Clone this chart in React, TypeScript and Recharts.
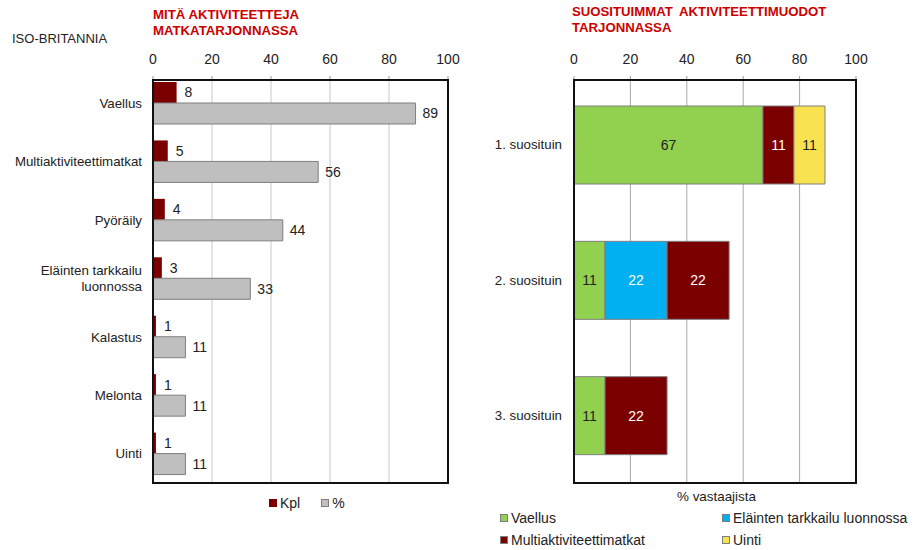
import React from 'react';
import { BarChart, Bar, XAxis, YAxis, CartesianGrid, LabelList } from 'recharts';

const FONT = '"Liberation Sans", Arial, sans-serif';

// vasen kaavio: aktiviteetit matkatarjonnassa
const activities = [
  'Vaellus',
  'Multiaktiviteettimatkat',
  'Pyöräily',
  'Eläinten tarkkailu luonnossa',
  'Kalastus',
  'Melonta',
  'Uinti',
];
const kplValues = [8, 5, 4, 3, 1, 1, 1];
const pctValues = [89, 56, 44, 33, 11, 11, 11];

// oikea kaavio: suosituimmat aktiviteettimuodot
const ranks = ['1. suosituin', '2. suosituin', '3. suosituin'];
const vaellusShare = [67, 11, 11];
const elaintenShare = [0, 22, 0];
const multiShare = [11, 22, 22];
const uintiShare = [11, 0, 0];

const axisTicks = [0, 20, 40, 60, 80, 100];

const leftData = activities.map((name, i) => ({ name, kpl: kplValues[i], pct: pctValues[i] }));
const rightData = ranks.map((name, i) => ({
  name,
  vaellus: vaellusShare[i],
  elainten: elaintenShare[i],
  multi: multiShare[i],
  uinti: uintiShare[i],
}));

const C = {
  red: '#7A0000',
  gray: '#BFBFBF',
  grayEdge: '#7F7F7F',
  green: '#92D050',
  blue: '#00B0F0',
  yellow: '#F9E24F',
  text: '#222',
  title: '#CC0000',
};

const wrapLabel = (s: string) => {
  if (s.length <= 24) return [s];
  const i = s.lastIndexOf(' ');
  return [s.slice(0, i), s.slice(i + 1)];
};

const CategoryTick = (props: any) => {
  const { x, y, payload } = props;
  const lines = wrapLabel(String(payload.value));
  const lh = 16.5;
  const y0 = y - ((lines.length - 1) * lh) / 2;
  return (
    <text x={x} y={y0} textAnchor="end" fontSize={13.3} fill={C.text} fontFamily={FONT}>
      {lines.map((l, i) => (
        <tspan key={i} x={x} dy={i === 0 ? '0.35em' : lh}>
          {l}
        </tspan>
      ))}
    </text>
  );
};

const hideZero = (v: any) => (v ? v : '');

const Swatch = ({ color, edge }: { color: string; edge?: string }) => (
  <span
    style={{
      display: 'inline-block',
      width: 8,
      height: 8,
      background: color,
      border: `1px solid ${edge || '#555'}`,
      boxSizing: 'border-box',
      marginRight: 3,
    }}
  />
);

const Frame = ({ left, top, width, height }: any) => (
  <div
    style={{
      position: 'absolute',
      left,
      top,
      width,
      height,
      border: '2px solid #111',
      boxSizing: 'border-box',
      pointerEvents: 'none',
    }}
  />
);

const tickStyle = { fontSize: 14, fill: C.text, fontFamily: FONT };

export default function App() {
  return (
    <div
      style={{
        position: 'absolute',
        left: 0,
        top: 0,
        width: 918,
        height: 550,
        background: '#fff',
        fontFamily: FONT,
        color: C.text,
        overflow: 'hidden',
      }}
    >
      <div style={{ position: 'absolute', left: 12, top: 31, fontSize: 13 }}>ISO-BRITANNIA</div>
      <div
        style={{
          position: 'absolute',
          left: 153,
          top: 7,
          fontSize: 13.2,
          lineHeight: '15.5px',
          fontWeight: 'bold',
          color: C.title,
        }}
      >
        MITÄ AKTIVITEETTEJA
        <br />
        MATKATARJONNASSA
      </div>
      <div
        style={{
          position: 'absolute',
          left: 572,
          top: 4,
          fontSize: 13.2,
          lineHeight: '15.5px',
          fontWeight: 'bold',
          color: C.title,
          wordSpacing: 3,
        }}
      >
        SUOSITUIMMAT AKTIVITEETTIMUODOT
        <br />
        TARJONNASSA
      </div>

      <div style={{ position: 'absolute', left: 0, top: 0 }}>
        <BarChart
          width={460}
          height={550}
          data={leftData}
          layout="vertical"
          margin={{ top: 0, right: 12, bottom: 67, left: 0 }}
          barGap={0}
        >
          <CartesianGrid horizontal={false} stroke="#C8C8C8" />
          <XAxis
            type="number"
            orientation="top"
            domain={[0, 100]}
            ticks={axisTicks}
            height={80}
            axisLine={false}
            tickLine={{ stroke: '#999' }}
            tickSize={4}
            tickMargin={12}
            tick={tickStyle}
            interval={0}
          />
          <YAxis
            type="category"
            dataKey="name"
            width={153}
            axisLine={false}
            tickLine={false}
            tickSize={0}
            tickMargin={11}
            tick={<CategoryTick />}
            interval={0}
            padding={{ top: -6, bottom: 0 }}
          />
          <Bar dataKey="kpl" fill={C.red} barSize={21} isAnimationActive={false}>
            <LabelList dataKey="kpl" position="right" offset={8} style={tickStyle} />
          </Bar>
          <Bar dataKey="pct" fill={C.gray} stroke={C.grayEdge} barSize={21} isAnimationActive={false}>
            <LabelList dataKey="pct" position="right" offset={7} style={tickStyle} />
          </Bar>
        </BarChart>
      </div>
      <Frame left={152} top={79} width={297} height={405} />

      <div style={{ position: 'absolute', left: 269, top: 495, fontSize: 14, display: 'flex', alignItems: 'center' }}>
        <Swatch color={C.red} edge={C.red} />
        <span>Kpl</span>
        <span style={{ width: 21 }} />
        <Swatch color={C.gray} edge={C.grayEdge} />
        <span>%</span>
      </div>

      <div style={{ position: 'absolute', left: 460, top: 0 }}>
        <BarChart
          width={458}
          height={550}
          data={rightData}
          layout="vertical"
          margin={{ top: 0, right: 62, bottom: 67, left: 0 }}
        >
          <CartesianGrid horizontal={false} stroke="#A8A8A8" />
          <XAxis
            type="number"
            orientation="top"
            domain={[0, 100]}
            ticks={axisTicks}
            height={80}
            axisLine={false}
            tickLine={{ stroke: '#999' }}
            tickSize={4}
            tickMargin={12}
            tick={tickStyle}
            interval={0}
          />
          <YAxis
            type="category"
            dataKey="name"
            width={114}
            axisLine={false}
            tickLine={false}
            tickSize={0}
            tickMargin={12}
            tick={<CategoryTick />}
            interval={0}
            padding={{ top: -3, bottom: 0 }}
          />
          <Bar dataKey="vaellus" stackId="s" fill={C.green} stroke={C.grayEdge} barSize={78} isAnimationActive={false}>
            <LabelList dataKey="vaellus" position="center" formatter={hideZero} style={{ ...tickStyle, fill: '#222' }} />
          </Bar>
          <Bar dataKey="elainten" stackId="s" fill={C.blue} stroke={C.grayEdge} barSize={78} isAnimationActive={false}>
            <LabelList dataKey="elainten" position="center" formatter={hideZero} style={{ ...tickStyle, fill: '#fff' }} />
          </Bar>
          <Bar dataKey="multi" stackId="s" fill={C.red} stroke={C.grayEdge} barSize={78} isAnimationActive={false}>
            <LabelList dataKey="multi" position="center" formatter={hideZero} style={{ ...tickStyle, fill: '#fff' }} />
          </Bar>
          <Bar dataKey="uinti" stackId="s" fill={C.yellow} stroke={C.grayEdge} barSize={78} isAnimationActive={false}>
            <LabelList dataKey="uinti" position="center" formatter={hideZero} style={{ ...tickStyle, fill: '#222' }} />
          </Bar>
        </BarChart>
      </div>
      <Frame left={573} top={79} width={284} height={405} />

      <div style={{ position: 'absolute', left: 677, top: 489, fontSize: 13.4 }}>% vastaajista</div>

      <div style={{ position: 'absolute', left: 500, top: 507, fontSize: 14, lineHeight: '22px' }}>
        <div style={{ display: 'flex', alignItems: 'center' }}>
          <div style={{ width: 222, display: 'flex', alignItems: 'center' }}>
            <Swatch color={C.green} edge={C.grayEdge} />
            <span>Vaellus</span>
          </div>
          <div style={{ display: 'flex', alignItems: 'center' }}>
            <Swatch color={C.blue} edge={C.grayEdge} />
            <span>Eläinten tarkkailu luonnossa</span>
          </div>
        </div>
        <div style={{ display: 'flex', alignItems: 'center' }}>
          <div style={{ width: 222, display: 'flex', alignItems: 'center' }}>
            <Swatch color={C.red} edge={C.grayEdge} />
            <span>Multiaktiviteettimatkat</span>
          </div>
          <div style={{ display: 'flex', alignItems: 'center' }}>
            <Swatch color={C.yellow} edge={C.grayEdge} />
            <span>Uinti</span>
          </div>
        </div>
      </div>
    </div>
  );
}
